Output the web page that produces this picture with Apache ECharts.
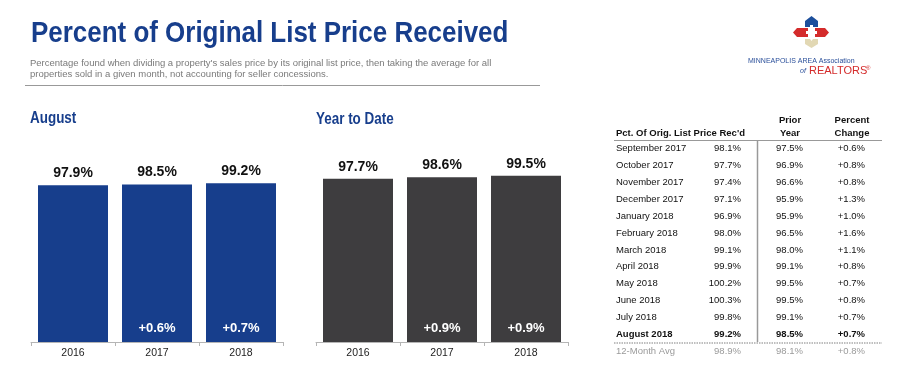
<!DOCTYPE html>
<html>
<head>
<meta charset="utf-8">
<script src="https://cdn.jsdelivr.net/npm/echarts@6/dist/echarts.min.js"></script>
<style>
  html, body { margin: 0; padding: 0; background: #fff; }
  #main { width: 900px; height: 377px; }
</style>
</head>
<body>
<div id="main"></div>
<script>
// bar charts
const years = ['2016', '2017', '2018'];
const augustValues = [97.9, 98.5, 99.2];
const augustChange = ['', '+0.6%', '+0.7%'];
const ytdValues = [97.7, 98.6, 99.5];
const ytdChange = ['', '+0.9%', '+0.9%'];

// table on the right
const tableMonths = ['September 2017', 'October 2017', 'November 2017', 'December 2017',
  'January 2018', 'February 2018', 'March 2018', 'April 2018', 'May 2018', 'June 2018',
  'July 2018', 'August 2018'];
const tableCurrent = [98.1, 97.7, 97.4, 97.1, 96.9, 98.0, 99.1, 99.9, 100.2, 100.3, 99.8, 99.2];
const tablePrior = [97.5, 96.9, 96.6, 95.9, 95.9, 96.5, 98.0, 99.1, 99.5, 99.5, 99.1, 98.5];
const tableChange = [0.6, 0.8, 0.8, 1.3, 1.0, 1.6, 1.1, 0.8, 0.7, 0.8, 0.7, 0.7];
const avgRow = ['12-Month Avg', 98.9, 98.1, 0.8];

const BLUE = '#173e8c';
const DARK = '#3e3d3f';
const SANS = '"Liberation Sans", Arial, sans-serif';

function pct(v) { return v.toFixed(1) + '%'; }
function signed(v) { return (v >= 0 ? '+' : '') + v.toFixed(1) + '%'; }

function txt(x, y, text, font, fill, align) {
  return {
    type: 'text', x: x, y: y, silent: true,
    style: { text: text, font: font, fill: fill, align: align || 'left', verticalAlign: 'middle' }
  };
}
// condensed look: squeeze a bold sans horizontally
function narrow(x, y, text, size, sx) {
  const t = txt(x, y, text, 'bold ' + size + 'px ' + SANS, BLUE);
  t.scaleX = sx;
  return t;
}

// table graphics
const table = [];
const rowY0 = 148.5, rowStep = 16.9;
const colName = 616, colCur = 741, colPrior = 803, colChg = 865;
const tf = '9.5px ' + SANS, tb = 'bold 9.5px ' + SANS;
table.push(txt(616, 133, "Pct. Of Orig. List Price Rec'd", tb, '#111'));
table.push(txt(790, 120, 'Prior', tb, '#111', 'center'));
table.push(txt(790, 133, 'Year', tb, '#111', 'center'));
table.push(txt(852, 120, 'Percent', tb, '#111', 'center'));
table.push(txt(852, 133, 'Change', tb, '#111', 'center'));
table.push({ type: 'line', silent: true, shape: { x1: 614, y1: 140.5, x2: 882, y2: 140.5 }, style: { stroke: '#999', lineWidth: 1 } });
table.push({ type: 'line', silent: true, shape: { x1: 757.5, y1: 141, x2: 757.5, y2: 342 }, style: { stroke: '#999', lineWidth: 1.5 } });
table.push({ type: 'line', silent: true, shape: { x1: 614, y1: 343, x2: 882, y2: 343 }, style: { stroke: '#aaa', lineWidth: 1.5, lineDash: [1.5, 1] } });
tableMonths.forEach(function (m, i) {
  const y = rowY0 + i * rowStep;
  const f = i === tableMonths.length - 1 ? tb : tf;
  table.push(txt(colName, y, m, f, '#111'));
  table.push(txt(colCur, y, pct(tableCurrent[i]), f, '#111', 'right'));
  table.push(txt(colPrior, y, pct(tablePrior[i]), f, '#111', 'right'));
  table.push(txt(colChg, y, signed(tableChange[i]), f, '#111', 'right'));
});
(function () {
  const y = rowY0 + tableMonths.length * rowStep;
  table.push(txt(colName, y, avgRow[0], tf, '#9a9a9a'));
  table.push(txt(colCur, y, pct(avgRow[1]), tf, '#9a9a9a', 'right'));
  table.push(txt(colPrior, y, pct(avgRow[2]), tf, '#9a9a9a', 'right'));
  table.push(txt(colChg, y, signed(avgRow[3]), tf, '#9a9a9a', 'right'));
})();

// logo
const logo = [
  { type: 'polygon', silent: true, shape: { points: [[805, 27], [805, 21], [811.5, 16], [818, 21], [818, 27], [813, 27], [813, 25], [810, 25], [810, 27]] }, style: { fill: '#1d4f9c' } },
  { type: 'polygon', silent: true, shape: { points: [[808, 28], [797, 28], [793, 32.5], [797, 37], [808, 37], [808, 34], [806, 34], [806, 31], [808, 31]] }, style: { fill: '#d42b2b' } },
  { type: 'polygon', silent: true, shape: { points: [[815, 28], [825, 28], [829, 32.5], [825, 37], [815, 37], [815, 34], [817, 34], [817, 31], [815, 31]] }, style: { fill: '#d42b2b' } },
  { type: 'polygon', silent: true, shape: { points: [[805, 39], [810, 39], [811.5, 41], [813, 39], [818, 39], [818, 44], [811.5, 48], [805, 44]] }, style: { fill: '#e2d8b4' } },
  txt(748, 61, 'MINNEAPOLIS AREA Association', '7px ' + SANS, '#2a4f9a'),
  txt(800, 71.5, 'of', 'italic 7px ' + SANS, '#2a4f9a'),
  txt(809, 71, 'REALTORS', '11px ' + SANS, '#d42b2b'),
  txt(866, 68, '®', '6px ' + SANS, '#d42b2b')
];

const header = [
  narrow(31, 34, 'Percent of Original List Price Received', 30, 0.865),
  txt(30, 63, "Percentage found when dividing a property's sales price by its original list price, then taking the average for all", '9.5px ' + SANS, '#7a7a7a'),
  txt(30, 74, 'properties sold in a given month, not accounting for seller concessions.', '9.5px ' + SANS, '#7a7a7a'),
  { type: 'line', silent: true, shape: { x1: 25, y1: 85.5, x2: 540, y2: 85.5 }, style: { stroke: '#999', lineWidth: 1 } },
  narrow(30, 119, 'August', 16, 0.84),
  narrow(316, 120, 'Year to Date', 16, 0.84)
];

function xAxisFor(gridIndex) {
  return {
    type: 'category', gridIndex: gridIndex, data: years,
    axisLine: { lineStyle: { color: '#b5b5b5', width: 1 } },
    axisTick: { show: true, length: 4, lineStyle: { color: '#b5b5b5' } },
    axisLabel: { color: '#222', fontSize: 10.5, fontFamily: SANS, margin: 6 }
  };
}
function yAxisFor(gridIndex) {
  return { type: 'value', gridIndex: gridIndex, min: 0, max: 100, show: false, splitLine: { show: false } };
}
function barSeries(idx, values, color) {
  return {
    type: 'bar', xAxisIndex: idx, yAxisIndex: idx, data: values, barWidth: 70,
    itemStyle: { color: color },
    label: {
      show: true, position: 'top', distance: 5,
      formatter: function (p) { return pct(p.value); },
      color: '#111', fontSize: 14, fontWeight: 'bold', fontFamily: SANS
    },
    silent: true
  };
}
function changeSeries(idx, values, changes) {
  return {
    type: 'bar', xAxisIndex: idx, yAxisIndex: idx, data: values, barWidth: 70, barGap: '-100%',
    itemStyle: { color: 'rgba(0,0,0,0)' },
    label: {
      show: true, position: 'insideBottom', distance: 7,
      formatter: function (p) { return changes[p.dataIndex]; },
      color: '#fff', fontSize: 13, fontWeight: 'bold', fontFamily: SANS
    },
    silent: true
  };
}

const chart = echarts.init(document.getElementById('main'));
chart.setOption({
  animation: false,
  backgroundColor: '#fff',
  grid: [
    { left: 31, top: 182, width: 252, height: 160 },
    { left: 316, top: 175, width: 252, height: 167 }
  ],
  xAxis: [xAxisFor(0), xAxisFor(1)],
  yAxis: [yAxisFor(0), yAxisFor(1)],
  series: [
    barSeries(0, augustValues, BLUE),
    changeSeries(0, augustValues, augustChange),
    barSeries(1, ytdValues, DARK),
    changeSeries(1, ytdValues, ytdChange)
  ],
  graphic: header.concat(logo, table)
});
</script>
</body>
</html>
